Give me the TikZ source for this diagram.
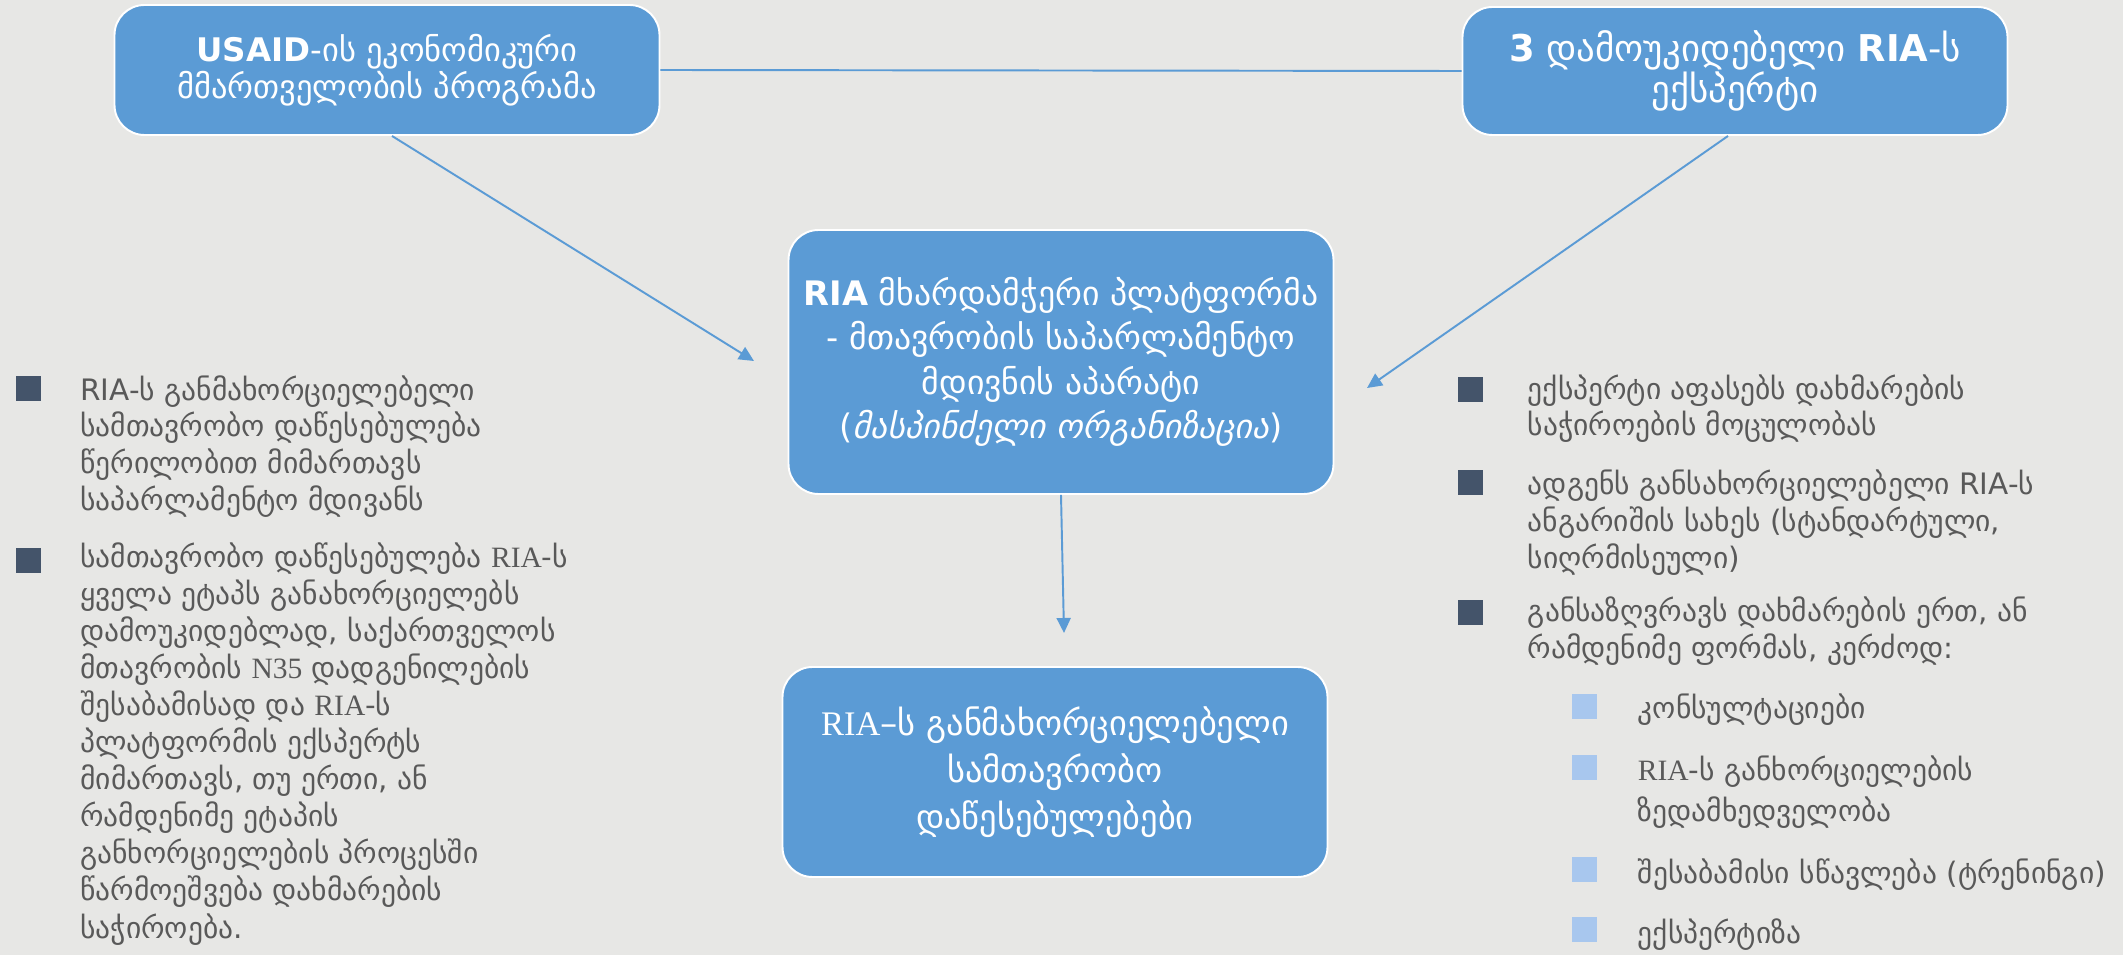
\documentclass[tikz,border=0pt]{standalone}
\usepackage{fontspec}
\setmainfont{DejaVu Sans}
\newfontfamily\latserif{Liberation Serif}
\usetikzlibrary{arrows.meta}
\definecolor{bgcol}{HTML}{E7E7E5}
\definecolor{boxblue}{HTML}{5B9BD5}
\definecolor{bulletdark}{HTML}{44546A}
\definecolor{bulletlight}{HTML}{A8C7EE}
\definecolor{bodygray}{HTML}{595959}

\begin{document}
\begin{tikzpicture}[
    orgbox/.style={draw=white,line width=1.1pt,fill=boxblue,rounded corners=0.6cm,text=white,align=center,minimum width=10.9cm,font=\fontsize{18.5}{21}\selectfont},
    link/.style={draw=boxblue,line width=1.1pt},
    flow/.style={link,-{Triangle[length=0.3cm,width=0.28cm]}},
    sqdark/.style={fill=bulletdark,minimum size=0.5cm,inner sep=0pt},
    sqlight/.style={fill=bulletlight,minimum size=0.5cm,inner sep=0pt},
    bodytext/.style={text=bodygray,align=left,anchor=base west,inner sep=0pt,font=\fontsize{16.8}{21}\selectfont}
]
    \fill[bgcol] (0,0) rectangle (42.46,19.1);
    \useasboundingbox (0,0) rectangle (42.46,19.1);

    \node[orgbox,minimum height=2.6cm] (usaid) at (7.74,17.7) {\textbf{USAID}-ის ეკონომიკური\\მმართველობის პროგრამა};
    \node[orgbox,minimum height=2.56cm,font=\fontsize{21}{23.2}\selectfont] (experts) at (34.7,17.68) {\textbf{3} დამოუკიდებელი \textbf{RIA}-ს\\ექსპერტი};
    \node[orgbox,minimum height=5.28cm,font=\fontsize{19.2}{25.3}\selectfont] (platform) at (21.22,11.86) {\textbf{RIA} მხარდამჭერი პლატფორმა\\- მთავრობის საპარლამენტო\\მდივნის აპარატი\\(\textit{მასპინძელი ორგანიზაცია})};
    \node[orgbox,minimum height=4.2cm,font=\fontsize{19.6}{26.6}\selectfont] (agencies) at (21.1,3.66) {{\latserif RIA}–ს განმახორციელებელი\\სამთავრობო\\დაწესებულებები};

    \coordinate (tipA) at (15.08,11.88);
    \coordinate (tipB) at (27.34,11.34);
    \coordinate (tipC) at (21.28,6.44);
    \draw[link] (usaid.east) -- (experts.west);
    \draw[flow] ([xshift=0.1cm]usaid.south) -- (tipA);
    \draw[flow] ([xshift=-0.14cm]experts.south) -- (tipB);
    \draw[flow] (platform.south) -- (tipC);

    \node[sqdark] (lsq1) at (0.56,11.32) {};
    \node[bodytext,font=\fontsize{16.8}{20.8}\selectfont] (ltext1) at (1.6,8.9) {RIA-ს განმახორციელებელი\\სამთავრობო დაწესებულება\\წერილობით მიმართავს\\საპარლამენტო მდივანს};
    \node[sqdark] (lsq2) at (0.56,7.9) {};
    \node[bodytext,font=\fontsize{16.8}{21.1}\selectfont] (ltext2) at (1.6,0.34) {სამთავრობო დაწესებულება {\latserif RIA}-ს\\ყველა ეტაპს განახორციელებს\\დამოუკიდებლად, საქართველოს\\მთავრობის {\latserif N35} დადგენილების\\შესაბამისად და {\latserif RIA}-ს\\პლატფორმის ექსპერტს\\მიმართავს, თუ ერთი, ან\\რამდენიმე ეტაპის\\განხორციელების პროცესში\\წარმოეშვება დახმარების\\საჭიროება.};

    \node[sqdark] (rsq1) at (29.4,11.3) {};
    \node[bodytext] (rtext1) at (30.55,10.38) {ექსპერტი აფასებს დახმარების\\საჭიროების მოცულობას};
    \node[sqdark] (rsq2) at (29.4,9.44) {};
    \node[bodytext] (rtext2) at (30.55,7.74) {ადგენს განსახორციელებელი RIA-ს\\ანგარიშის სახეს (სტანდარტული,\\სიღრმისეული)};
    \node[sqdark] (rsq3) at (29.4,6.86) {};
    \node[bodytext] (rtext3) at (30.55,5.94) {განსაზღვრავს დახმარების ერთ, ან\\რამდენიმე ფორმას, კერძოდ:};

    \node[sqlight] (ssq1) at (31.68,4.98) {};
    \node[bodytext] (stext1) at (32.75,4.74) {კონსულტაციები};
    \node[sqlight] (ssq2) at (31.68,3.76) {};
    \node[bodytext,font=\fontsize{16.8}{23.2}\selectfont] (stext2) at (32.75,2.68) {{\latserif RIA}-ს განხორციელების\\ზედამხედველობა};
    \node[sqlight] (ssq3) at (31.68,1.72) {};
    \node[bodytext] (stext3) at (32.75,1.44) {შესაბამისი სწავლება (ტრენინგი)};
    \node[sqlight] (ssq4) at (31.68,0.52) {};
    \node[bodytext] (stext4) at (32.75,0.24) {ექსპერტიზა};
\end{tikzpicture}
\end{document}
